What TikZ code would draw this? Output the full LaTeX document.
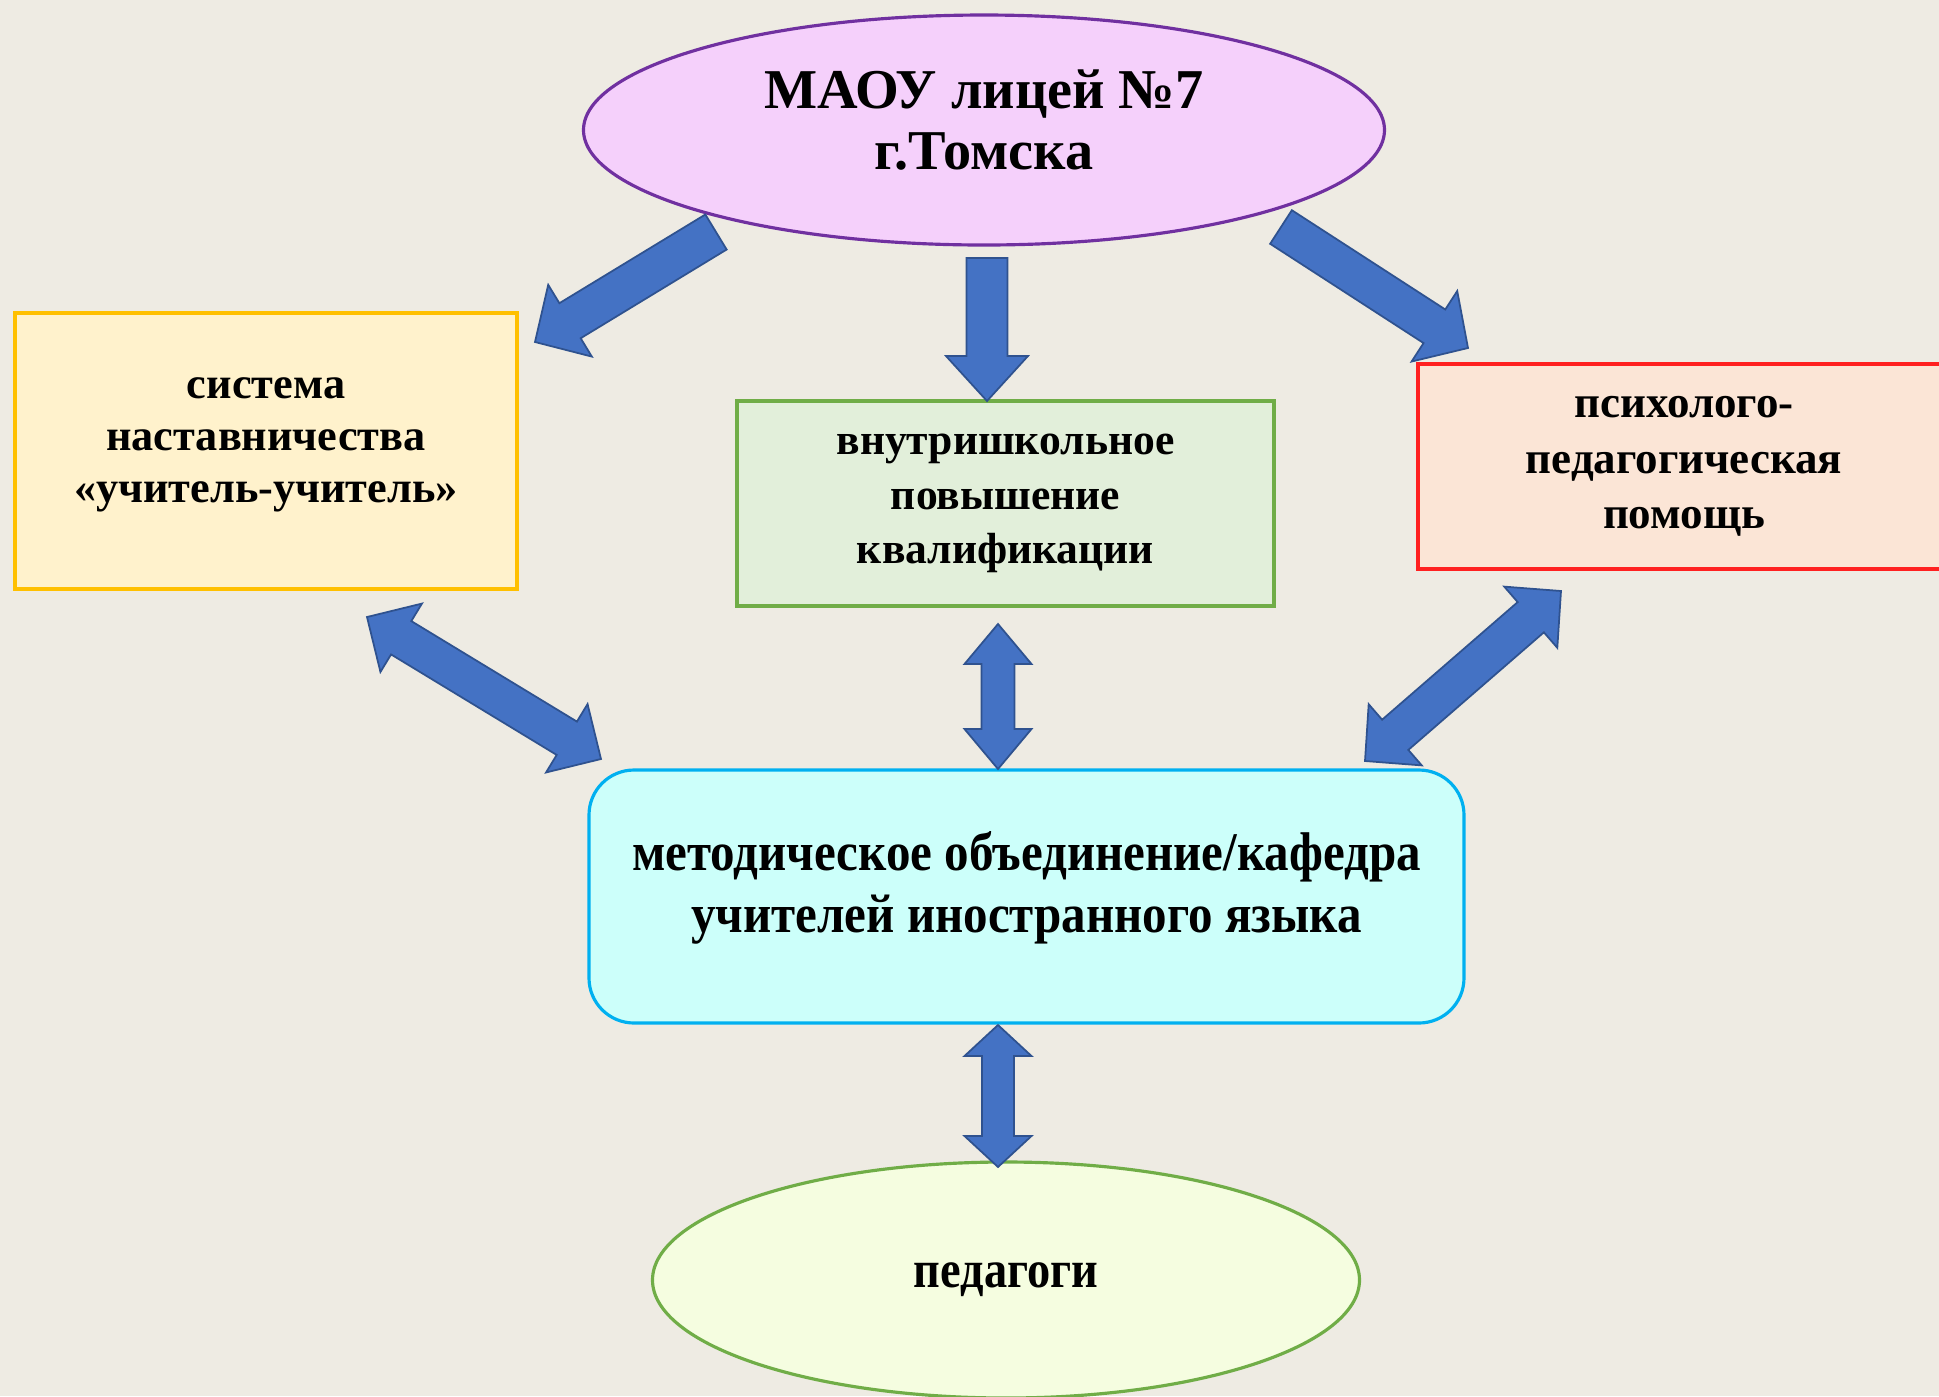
\documentclass[tikz,border=0pt]{standalone}
\usepackage{fontspec}
\setmainfont{Liberation Serif}
\usetikzlibrary{shapes.geometric,calc}

\definecolor{bgcol}{HTML}{EEEBE3}
\definecolor{arrfill}{HTML}{4472C4}
\definecolor{arredge}{HTML}{2F528F}
\definecolor{lilac}{HTML}{F5D0FB}
\definecolor{violet}{HTML}{7030A0}
\definecolor{cream}{HTML}{FFF2CC}
\definecolor{gold}{HTML}{FFC000}
\definecolor{mint}{HTML}{E2EFDA}
\definecolor{leaf}{HTML}{70AD47}
\definecolor{peach}{HTML}{FBE5D6}
\definecolor{redline}{HTML}{FF2020}
\definecolor{aqua}{HTML}{CCFFFA}
\definecolor{skyline}{HTML}{00B0F0}
\definecolor{lime}{HTML}{F5FDE0}

% block arrow: from #1 to #2, half shaft #3, half head #4, head length #5
\newcommand{\blockarr}[5]{%
  \path ($(#2)!#5!(#1)$) coordinate (hb);
  \filldraw[blockarrow] ($(#1)!#3!90:(#2)$) -- ($(hb)!#3!-90:(#1)$) -- ($(hb)!#4!-90:(#1)$) -- (#2)
    -- ($(hb)!#4!90:(#1)$) -- ($(hb)!#3!90:(#1)$) -- ($(#1)!#3!-90:(#2)$) -- cycle;
}
% same with heads at both ends
\newcommand{\dblarr}[5]{%
  \path ($(#1)!#5!(#2)$) coordinate (ha) ($(#2)!#5!(#1)$) coordinate (hb);
  \filldraw[blockarrow] (#1) -- ($(ha)!#4!90:(#2)$) -- ($(ha)!#3!90:(#2)$) -- ($(hb)!#3!-90:(#1)$)
    -- ($(hb)!#4!-90:(#1)$) -- (#2) -- ($(hb)!#4!90:(#1)$) -- ($(hb)!#3!90:(#1)$)
    -- ($(ha)!#3!-90:(#2)$) -- ($(ha)!#4!-90:(#2)$) -- cycle;
}

\begin{document}
\begin{tikzpicture}[
    blockarrow/.style={fill=arrfill, draw=arredge, line width=0.5pt, line join=miter},
    sidebox/.style={rectangle, line width=0.9pt, align=center, inner sep=0pt},
  ]
    \fill[bgcol] (0,0) rectangle (19.39,-13.96);
    \useasboundingbox (0,0) rectangle (19.39,-13.96);

    \node[ellipse, draw=violet, fill=lilac, line width=0.9pt, minimum width=8.01cm, minimum height=2.30cm,
      align=center, font=\bfseries\fontsize{16}{17.3}\selectfont] (maou) at (9.84,-1.30)
      {МАОУ лицей №7\\г.Томска\rule[-0.2cm]{0pt}{0pt}};

    \node[sidebox, draw=gold, fill=cream, minimum width=5.02cm, minimum height=2.76cm,
      font=\bfseries\fontsize{12.6}{14.7}\selectfont] (mentor) at (2.66,-4.51)
      {система\\наставничества\\«учитель-учитель»\rule[-0.22cm]{0pt}{0pt}};
    \node[sidebox, draw=leaf, fill=mint, minimum width=5.37cm, minimum height=2.05cm,
      font=\bfseries\fontsize{12.4}{15.5}\selectfont] (qualif) at (10.055,-5.035)
      {внутришкольное\\повышение\\квалификации};
    \node[sidebox, draw=redline, fill=peach, minimum width=5.32cm, minimum height=2.05cm,
      font=\bfseries\fontsize{12.8}{15.8}\selectfont] (psych) at (16.84,-4.665)
      {психолого-\\педагогическая\\помощь};

    \node[rectangle, rounded corners=0.45cm, draw=skyline, fill=aqua, line width=0.9pt, minimum width=8.75cm,
      minimum height=2.53cm, align=center,
      font=\bfseries\fontsize{15.5}{17.6}\selectfont\addfontfeatures{FakeStretch=0.9}] (mo) at (10.265,-8.965)
      {методическое объединение/кафедра\\учителей иностранного языка\rule[-0.29cm]{0pt}{0pt}};

    \node[ellipse, draw=leaf, fill=lime, line width=0.9pt, minimum width=7.07cm, minimum height=2.36cm,
      font=\bfseries\fontsize{15}{17}\selectfont\addfontfeatures{FakeStretch=0.88}] (ped) at (10.06,-12.80) {педагоги};

    % arrow ends
    \coordinate (a1s) at (7.16,-2.32);   \coordinate (a1t) at (5.35,-3.42);
    \coordinate (a2s) at (9.87,-2.58);   \coordinate (a2t) at (9.87,-4.01);
    \coordinate (a3s) at (12.81,-2.27);  \coordinate (a3t) at (14.68,-3.48);
    \coordinate (a4s) at (3.67,-6.17);   \coordinate (a4t) at (6.01,-7.59);
    \coordinate (a5s) at (9.98,-6.24);   \coordinate (a5t) at (9.98,-7.69);
    \coordinate (a6s) at (15.61,-5.91);  \coordinate (a6t) at (13.65,-7.61);
    \coordinate (a7s) at (9.98,-10.25);  \coordinate (a7t) at (9.98,-11.67);

    \blockarr{a1s}{a1t}{0.205cm}{0.42cm}{0.41cm}
    \blockarr{a2s}{a2t}{0.205cm}{0.41cm}{0.45cm}
    \blockarr{a3s}{a3t}{0.20cm}{0.42cm}{0.40cm}
    \dblarr{a4s}{a4t}{0.195cm}{0.40cm}{0.40cm}
    \dblarr{a5s}{a5t}{0.165cm}{0.335cm}{0.40cm}
    \dblarr{a6s}{a6t}{0.20cm}{0.405cm}{0.40cm}
    \dblarr{a7s}{a7t}{0.16cm}{0.335cm}{0.31cm}
\end{tikzpicture}
\end{document}
